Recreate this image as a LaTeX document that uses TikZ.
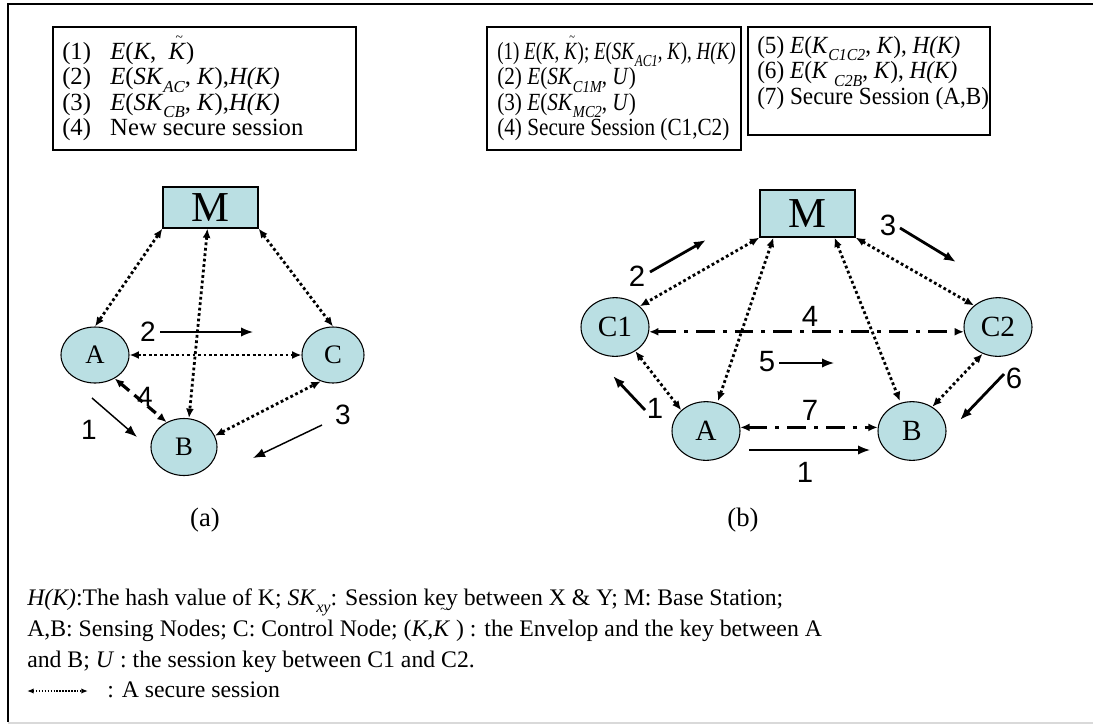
\documentclass[tikz,border=0pt]{standalone}
\usepackage{fontspec}
\setmainfont{Liberation Serif}
\newfontfamily\numfont{Liberation Sans}
\newfontfamily\condB[FakeStretch=0.86]{Liberation Serif}
\newfontfamily\condC[FakeStretch=0.94]{Liberation Serif}
\usetikzlibrary{arrows.meta,calc,shapes.geometric}
\definecolor{nodeblue}{HTML}{BADFE3}
\newcommand{\tK}[1][0.72em]{\textit{K}\llap{\smash{\raisebox{#1}{\scalebox{0.55}{\textasciitilde}}}\hspace{0.12em}}}
\newcommand{\sbi}[1]{\raisebox{-0.3em}{\scalebox{0.68}{\itshape #1}}}
\begin{document}
\begin{tikzpicture}[x=0.75pt,y=-0.75pt,
  every node/.style={inner sep=0pt},
  txt/.style={font=\fontsize{18.5}{19}\selectfont, align=left, anchor=north west},
  legbox/.style={draw, line width=0.9pt},
  mbox/.style={draw, line width=0.9pt, fill=nodeblue, font=\fontsize{32}{32}\selectfont},
  ella/.style={ellipse, draw, line width=0.8pt, fill=nodeblue, font=\fontsize{20}{20}\selectfont},
  ellb/.style={ellipse, draw, line width=0.8pt, fill=nodeblue, font=\fontsize{22}{22}\selectfont, minimum width=51pt, minimum height=44pt},
  numa/.style={font=\numfont\fontsize{21}{21}\selectfont},
  numb/.style={font=\numfont\fontsize{22}{22}\selectfont},
  sess/.style={line width=2.1pt, dash pattern=on 2.1pt off 2pt, {Latex[length=7pt,width=6pt]}-{Latex[length=7pt,width=6pt]}},
  dashdot/.style={line width=2.1pt, dash pattern=on 14pt off 6pt on 3pt off 6pt, {Latex[length=7pt,width=6pt]}-{Latex[length=7pt,width=6pt]}},
  dasharr/.style={line width=2.4pt, dash pattern=on 8pt off 5pt, {Latex[length=7pt,width=6pt]}-{Latex[length=7pt,width=6pt]}},
  thinarr/.style={line width=1.1pt, -{Latex[length=9pt,width=7pt]}},
  thickarr/.style={line width=2.1pt, -{Latex[length=9pt,width=7pt]}},
  capt/.style={font=\fontsize{20}{20}\selectfont},
  foot/.style={font=\fontsize{17.8}{23}\selectfont, anchor=base west}
]
\useasboundingbox (0,0) rectangle (1093,726);
% outer frame
\draw[line width=1.2pt] (1093,4) -- (8,4) -- (8,722);
\draw[line width=1pt, black!15] (8,723) -- (1093,723);

% legend boxes
\node[legbox, minimum width=227.25pt, minimum height=92.25pt] (box1) at (204.5,88.5) {};
\node[txt] (box1t) at (62,42) {%
\makebox[36pt][l]{(1)}\textit{E}(\textit{K},\ \ \tK)\\
\makebox[36pt][l]{(2)}\textit{E}(\textit{SK}\sbi{AC}, \textit{K}),\textit{H(K)}\\
\makebox[36pt][l]{(3)}\textit{E}(\textit{SK}\sbi{CB}, \textit{K}),\textit{H(K)}\\
\makebox[36pt][l]{(4)}New secure session};

\node[legbox, minimum width=190.5pt, minimum height=92.25pt] (box2) at (614,88.5) {};
\node[txt, font=\condB\fontsize{18.5}{19}\selectfont] (box2t) at (497,42) {%
\scalebox{0.895}[1]{(1) \textit{E}(\textit{K}, \tK); \textit{E}(\textit{SK}\sbi{AC1}, \textit{K}), \textit{H(K)}}\\
(2) \textit{E}(\textit{SK}\sbi{C1M}, \textit{U})\\
(3) \textit{E}(\textit{SK}\sbi{MC2}, \textit{U})\\
(4) Secure Session (C1,C2)};

\node[legbox, minimum width=181.5pt, minimum height=81pt] (box3) at (869,81) {};
\node[txt, font=\condC\fontsize{18.5}{19}\selectfont] (box3t) at (757,36) {%
(5) \textit{E}(\textit{K}\sbi{C1C2}, \textit{K}), \textit{H(K)}\\
(6) \textit{E}(\textit{K} \sbi{C2B}, \textit{K}), \textit{H(K)}\\
(7) Secure Session (A,B)};

% ---------- diagram (a)
\node[mbox, minimum width=71.25pt, minimum height=30.75pt] (aM) at (210.5,207.5) {M};
\node[ella, minimum width=51pt, minimum height=42pt] (aA) at (95,355) {A};
\node[ella, minimum width=46.5pt, minimum height=42pt] (aC) at (333,355) {C};
\node[ella, minimum width=49.5pt, minimum height=42.75pt] (aB) at (184,447) {B};

\draw[sess] (aM.south west) -- (aA.north);
\draw[sess] ($(aM.south)+(-3,0)$) -- ($(aB.north)+(5,0)$);
\draw[sess] (aM.south east) -- (aC.north);
\draw[sess] (aA.east) -- (aC.west);
\draw[sess] (aB.20) -- (aC.-115);
\draw[dasharr] (aA.-50) -- (aB.125);

\node[numa] (la4) at (145,397) {4};
\node[numa] (la2) at (148,332) {2};
\coordinate (a2s) at (160,332); \coordinate (a2e) at (253,332);
\draw[thinarr] (a2s) -- (a2e);
\node[numa] (la1) at (89,430) {1};
\coordinate (a1s) at (92,398); \coordinate (a1e) at (137,437);
\draw[thinarr] (a1s) -- (a1e);
\node[numa] (la3) at (343,415) {3};
\coordinate (a3s) at (322,425); \coordinate (a3e) at (253,458);
\draw[thinarr] (a3s) -- (a3e);
\node[capt] (capa) at (205,520) {(a)};

% ---------- diagram (b)
\node[mbox, minimum width=71.25pt, minimum height=35.25pt] (bM) at (807.5,213.5) {M};
\node[ellb] (bC1) at (615,327) {C1};
\node[ellb] (bC2) at (998,327) {C2};
\node[ellb] (bA) at (706,431) {A};
\node[ellb] (bB) at (912,431) {B};

\draw[sess] (bM.south west) -- (bC1.40);
\draw[sess] ($(bM.south west)+(14,0)$) -- ($(bA.north)+(12,0)$);
\draw[sess] ($(bM.south)+(27,0)$) -- ($(bB.north)+(-12,0)$);
\draw[sess] (bM.south east) -- (bC2.138);
\draw[sess] (bC1.-50) -- (bA.140);
\draw[sess] (bB.50) -- (bC2.-120);
\draw[dashdot] (bC1.-8) -- (bC2.-172);
\draw[dashdot] (bA.6) -- (bB.174);

\node[numb] (lb4) at (810,316) {4};
\node[numb] (lb7) at (810,410) {7};
\node[numb] (lb5) at (767,362) {5};
\coordinate (b5s) at (779,363); \coordinate (b5e) at (834,363);
\draw[thinarr] (b5s) -- (b5e);
\node[numb] (lb1) at (805,472) {1};
\coordinate (b1s) at (749,450); \coordinate (b1e) at (870,450);
\draw[thinarr] (b1s) -- (b1e);
\node[numb] (lb2) at (637,276) {2};
\coordinate (b2s) at (650,272); \coordinate (b2e) at (706,240);
\draw[thickarr] (b2s) -- (b2e);
\node[numb] (lb3) at (888,225) {3};
\coordinate (b3s) at (900,228); \coordinate (b3e) at (956,262);
\draw[thickarr] (b3s) -- (b3e);
\node[numb] (lb1l) at (655,408) {1};
\coordinate (b1ls) at (645,410); \coordinate (b1le) at (613,376);
\draw[thickarr] (b1ls) -- (b1le);
\node[numb] (lb6) at (1014,378) {6};
\coordinate (b6s) at (1004,374); \coordinate (b6e) at (960,420);
\draw[thickarr] (b6s) -- (b6e);
\node[capt] (capb) at (743,520) {(b)};

% ---------- footer
\node[foot] (f1) at (27,605) {\textit{H(K)}:The hash value of K; \textit{SK}\sbi{xy}: Session key between X \& Y; M: Base Station;};
\node[foot] (f2) at (27,636) {A,B: Sensing Nodes; C: Control Node; (\textit{K},\tK[0.95em]\ ) : the Envelop and the key between A};
\node[foot] (f3) at (27,667) {and B; \textit{U} : the session key between C1 and C2.};
\coordinate (lgs) at (27,691); \coordinate (lge) at (88,691);
\draw[line width=1.1pt, dash pattern=on 1.1pt off 1.1pt, {Latex[length=5pt,width=4pt]}-{Latex[length=5pt,width=4pt]}] (lgs) -- (lge);
\node[foot] (f4) at (107,697) {: A secure session};
\end{tikzpicture}
\end{document}
